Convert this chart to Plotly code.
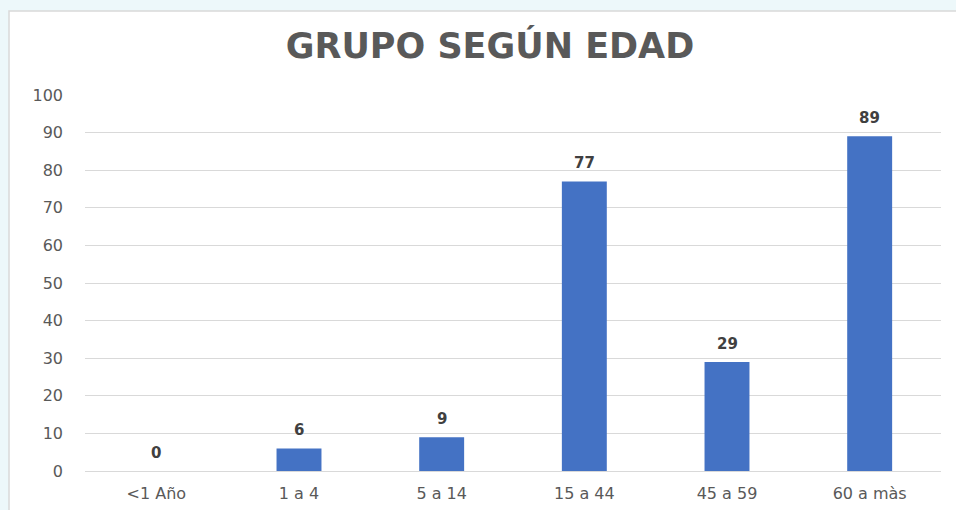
import plotly.graph_objects as go

categories = ["<1 Año", "1 a 4", "5 a 14", "15 a 44", "45 a 59", "60 a màs"]
values = [0, 6, 9, 77, 29, 89]
y_ticks = [0, 10, 20, 30, 40, 50, 60, 70, 80, 90, 100]

W, H = 956, 510
ml, mr, mt, mb = 85, 15, 95, 39
pw, ph = W - ml - mr, H - mt - mb

def px_x(p):
    return (p - ml) / pw

def px_y(p):
    return (H - mb - p) / ph

fig = go.Figure()
fig.add_trace(go.Bar(
    x=categories, y=values,
    marker=dict(color="#4472C4", line=dict(width=0)),
    width=0.315,
    hoverinfo="skip",
))

for c, v in zip(categories, values):
    fig.add_annotation(
        x=c, y=v, text=f"<b>{v}</b>", showarrow=False,
        yanchor="bottom", yshift=7,
        font=dict(family="DejaVu Sans, Verdana, sans-serif", size=15, color="#404040"),
    )

fig.add_shape(
    type="rect", xref="paper", yref="paper",
    x0=px_x(9), x1=px_x(970), y0=px_y(520), y1=px_y(11),
    fillcolor="white", line=dict(color="#D9D9D9", width=1.5), layer="below",
)

fig.update_layout(
    width=W, height=H,
    margin=dict(l=ml, r=mr, t=mt, b=mb, autoexpand=False),
    paper_bgcolor="#EDF8FA",
    plot_bgcolor="rgba(0,0,0,0)",
    showlegend=False,
    title=dict(
        text="<b>GRUPO SEGÚN EDAD</b>",
        x=490 / W, xanchor="center",
        y=1 - 46 / H, yanchor="middle",
        font=dict(family="DejaVu Sans, Verdana, sans-serif", size=35, color="#595959"),
    ),
    font=dict(family="DejaVu Sans, Verdana, sans-serif", size=15, color="#595959"),
)
fig.update_xaxes(
    showgrid=False, showline=False, zeroline=False, automargin=False,
    tickfont=dict(size=16, color="#595959"), ticks="", ticklabelstandoff=11,
)
fig.update_yaxes(
    range=[0, 100], tickvals=y_ticks, showgrid=True, gridcolor="#D9D9D9", gridwidth=1,
    zeroline=True, zerolinecolor="#D9D9D9", zerolinewidth=1, showline=False, automargin=False,
    tickfont=dict(size=16, color="#595959"), ticks="", ticklabelstandoff=21,
)

fig.write_html("out.html", config={"displayModeBar": False},
               post_script="document.body.style.margin='0';")
